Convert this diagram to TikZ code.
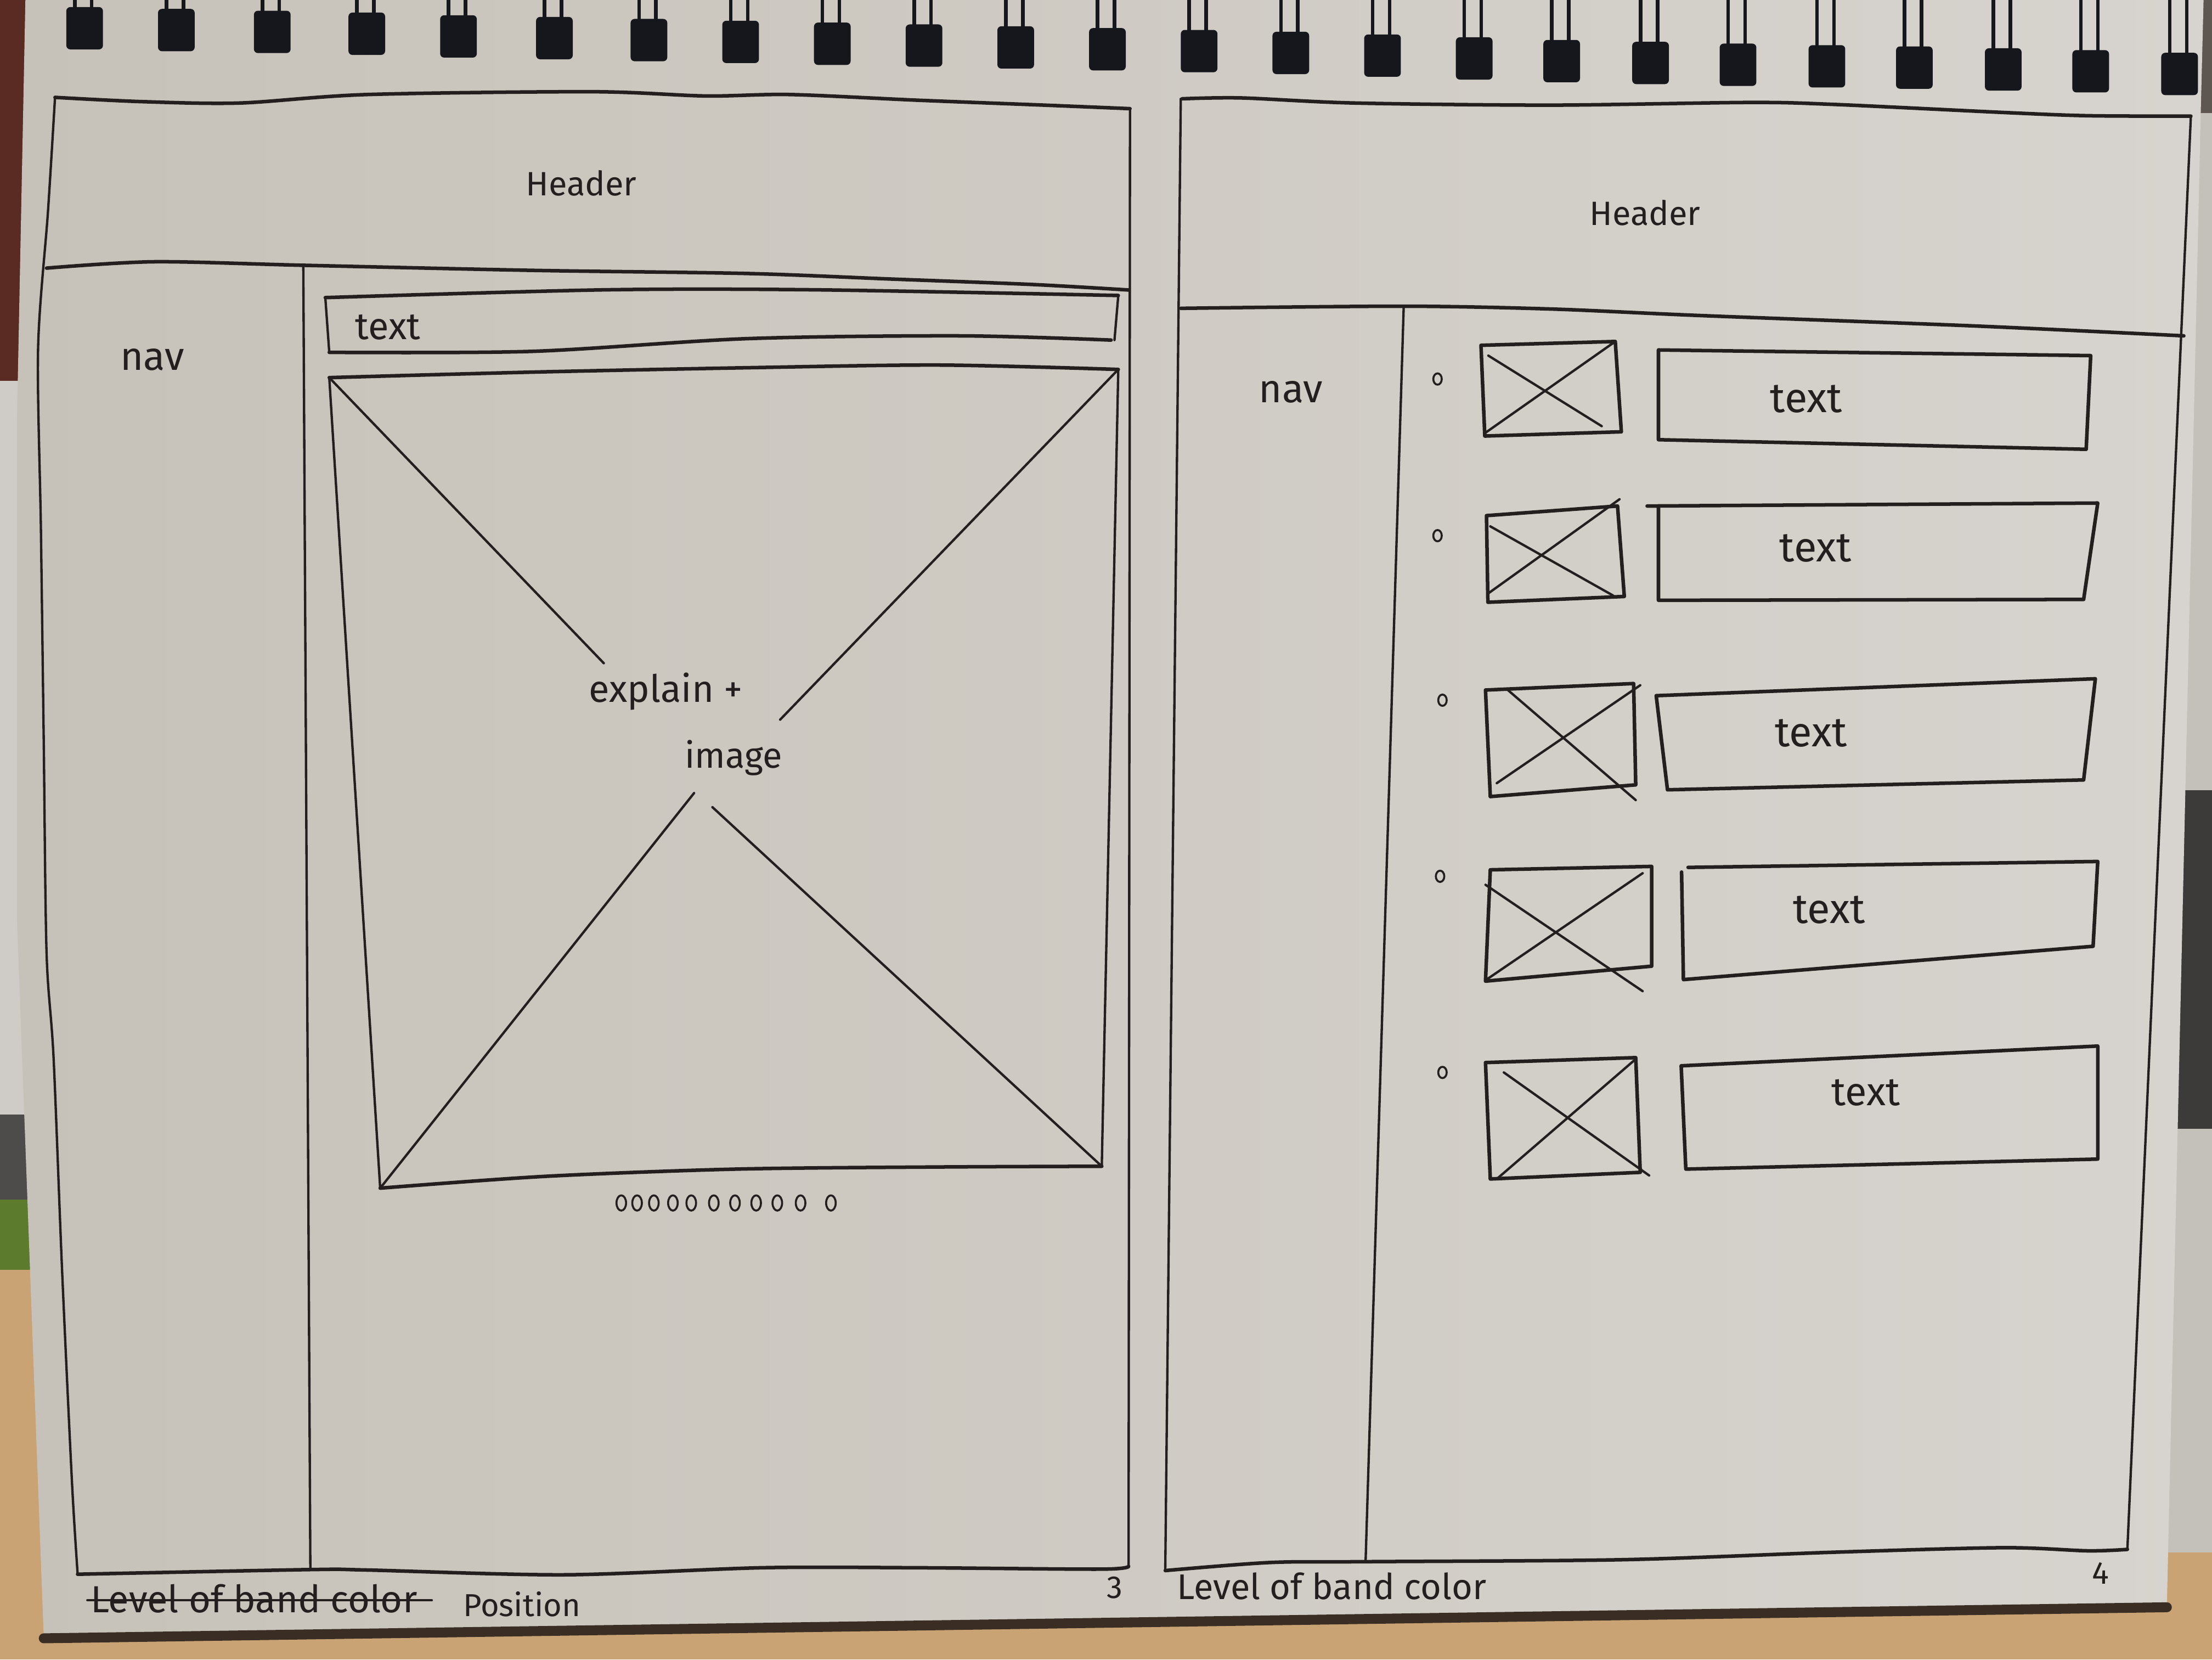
\documentclass[tikz,border=0pt]{standalone}
\usepackage{fontspec}
\setmainfont{Fira Sans}
\definecolor{ink}{HTML}{231F1E}
\definecolor{paperL}{HTML}{C7C2B9}
\definecolor{paperR}{HTML}{D7D4CF}
\definecolor{wood}{HTML}{C9A373}
\definecolor{shadow}{HTML}{3A2E24}
\definecolor{wallred}{HTML}{5A2B22}
\definecolor{wallgrey}{HTML}{CFCBC6}
\definecolor{darkgrey}{HTML}{4D4C4A}
\definecolor{grass}{HTML}{5C7B2C}
\definecolor{wire}{HTML}{16161D}
\definecolor{sideR}{HTML}{C4C0BA}
\definecolor{sideRdark}{HTML}{5E5650}
\definecolor{sideObj}{HTML}{3C3B3A}
\begin{document}
\begin{tikzpicture}[x=0.25mm,y=-0.25mm,line join=round,line cap=round,
  pen/.style={draw=ink,line width=1.8pt},
  fine/.style={draw=ink,line width=1.2pt},
  lbl/.style={text=ink,inner sep=0pt,font=\fontsize{#1}{#1}\selectfont},
  bullet/.style={draw=ink,line width=1pt},
  hole/.style={fill=wire,rounded corners=2pt},
  wirestroke/.style={draw=wire,line width=1.8pt}]
\useasboundingbox (0,0) rectangle (1568,1176);

% surroundings: table, wall and the object on the right
\fill[wood] (0,0) rectangle (1568,1176);
\fill[wallred] (0,0) rectangle (40,270);
\fill[wallgrey] (0,270) rectangle (40,790);
\fill[darkgrey] (0,790) rectangle (40,850);
\fill[grass] (0,850) rectangle (40,900);
\fill[sideRdark] (1520,0) rectangle (1568,80);
\fill[sideR] (1520,80) rectangle (1568,1100);
\fill[sideObj] (1520,560) rectangle (1568,800);

% the sheet of the sketchbook
\shade[left color=paperL,right color=paperR]
  (18,0) -- (1562,0) -- (1560,80) -- (1536,1138) -- (31,1160)
  -- (25,1000) -- (12,650) -- (12,300) -- cycle;
\draw[shadow,line width=5pt] (31,1161) -- (1536,1139);

% spiral binding
\foreach \x/\yb in {60/35,125/36.3,193/37.6,260/38.9,325/40.8,393/42,460/43.4,
  525/44.7,590/46,655/47.3,720/48.6,785/49.9,850/51.2,915/52.5,980/54.4,
  1045/56.4,1107/58.3,1170/59.6,1232/60.9,1295/62,1357/62.9,1420/64.2,
  1482/65.5,1545/67.4}{
  \fill[hole] (\x-13,\yb-30) rectangle (\x+13,\yb);
  \draw[wirestroke] (\x-7,0) -- (\x-7,\yb-4);
  \draw[wirestroke] (\x+5,0) -- (\x+5,\yb-4);
}

% ---------------- page 3 ----------------
\draw[pen] plot[smooth] coordinates {(39,69) (100,72) (170,73) (260,67) (420,65)
  (500,68) (560,67) (650,71) (740,74.5) (801,77)};
\draw[fine] (801,77) -- (800,1110);
\draw[fine] plot[smooth] coordinates {(39,69) (34,150) (27,247) (29,375) (31,525)
  (33,675) (38,750) (44,900) (51,1050) (55,1115)};
\draw[pen] plot[smooth] coordinates {(55,1115.6) (220,1112.3) (260,1112.6)
  (400,1116) (540,1111) (650,1111) (780,1112) (800,1110)};
% header band
\draw[pen] plot[smooth] coordinates {(33,190) (109,185.5) (215.5,188) (377.6,191.6)
  (529,193.8) (630.5,197.7) (731.6,201.6) (800,205.5)};
\node[lbl=17] (hdrA) at (412,130) {Header};
% navigation column
\draw[fine] (215,188) -- (220,1112);
\node[lbl=20] (navA) at (108,255) {nav};
% text bar
\draw[pen] plot[smooth] coordinates {(230.6,210.9) (428,205.4) (580,205.4) (792.7,209.4)};
\draw[fine] (792.7,209.4) -- (790,241);
\draw[pen] plot[smooth] coordinates {(233.4,249.7) (377,249) (529,240) (681,238) (787.6,241)};
\draw[fine] (230.6,210.9) -- (233.4,249.7);
\node[lbl=19] (barA) at (275,232) {text};
% image placeholder
\draw[pen] plot[smooth] coordinates {(233.4,267.6) (377.5,263.7) (529.4,260.6)
  (666,258.7) (792.7,261.8)};
\draw[fine] (792.7,261.8) -- (781,826.5);
\draw[pen] plot[smooth] coordinates {(269.5,842) (387,833.6) (521.6,828.5)
  (664,827) (781,826.5)};
\draw[fine] (233.4,267.6) -- (269.5,842);
\node[lbl=19] (expl) at (472,490) {explain +};
\node[lbl=18] (imgA) at (520,537) {image};
\draw[fine] (233.4,267.6) -- (428,470);
\draw[fine] (792.7,261.8) -- (553,510);
\draw[fine] (269.5,842) -- (492,562);
\draw[fine] (781,826.5) -- (505,572);
% slide indicator
\foreach \x in {440.4,451.6,463.5,477,490,506,521,536,551,567.5,589}
  \draw[bullet] (\x,852.5) ellipse [x radius=3.4, y radius=5.4];
% footer of page 3
\node[lbl=19,anchor=west] (oldA) at (64,1133) {Level of band color};
\draw[ink,line width=1.3pt] (oldA.west) ++(-2,1) -- (306,1134);
\node[lbl=16,anchor=west] (posA) at (328,1137) {Position};
\node[lbl=16] (pg3) at (790,1125) {3};

% ---------------- page 4 ----------------
\draw[pen] plot[smooth] coordinates {(838,70) (880,69.4) (960,73) (1100,74.5)
  (1240,72.6) (1300,74) (1420,79.7) (1480,82) (1553,82.3)};
\draw[fine] (837,70) -- (826,1113);
\draw[fine] (1553,82.3) -- (1508,1098);
\draw[pen] plot[smooth] coordinates {(826,1113) (900,1107.3) (968,1106.7)
  (1150,1105.3) (1300,1100) (1420,1096.8) (1480,1099) (1508,1098)};
% header band
\draw[pen] plot[smooth] coordinates {(837,218.5) (995,217) (1100,219) (1205,223.6)
  (1400,231) (1548,238)};
\node[lbl=17] (hdrB) at (1166,151) {Header};
% navigation column
\draw[fine] (995,218) -- (968,1106.7);
\node[lbl=20] (navB) at (915,278) {nav};

% list rows: bullet, thumbnail, text box
% row 1
\draw[bullet] (1019,268.6) ellipse [x radius=3, y radius=4];
\draw[pen] (1049.8,244.7) -- (1145,242) -- (1149.3,306) -- (1052.5,309) -- cycle;
\draw[fine] (1055,252) -- (1135.4,302);
\draw[fine] (1052.5,307) -- (1145,242);
\draw[pen] (1175.6,248) -- (1482,252) -- (1478.8,318.4) -- (1175.6,311.6) -- cycle;
\node[lbl=21] (txt1) at (1280.4,282.8) {text};
% row 2
\draw[bullet] (1019,379.6) ellipse [x radius=3, y radius=4];
\draw[pen] (1053.7,365.4) -- (1146.6,358.6) -- (1151.4,422.7) -- (1054.7,426.8) -- cycle;
\draw[fine] (1056.4,373) -- (1143.4,422);
\draw[fine] (1054.7,420.7) -- (1148,353.8);
\draw[pen] (1167.6,358.6) -- (1487,356.5) -- (1477,424.8) -- (1175.6,425.4) -- (1175.6,360);
\node[lbl=21] (txt2) at (1287,388.6) {text};
% row 3
\draw[bullet] (1022.5,496.2) ellipse [x radius=3, y radius=4];
\draw[pen] (1053,489) -- (1158,484.4) -- (1159.5,556.2) -- (1056.4,564.5) -- cycle;
\draw[fine] (1067.7,488) -- (1159.5,567);
\draw[fine] (1061,555) -- (1162.7,485.6);
\draw[pen] (1174,493) -- (1485.3,481) -- (1477,552.7) -- (1182,559.7) -- cycle;
\node[lbl=21] (txt3) at (1283.7,519.7) {text};
% row 4
\draw[bullet] (1020.8,621) ellipse [x radius=3, y radius=4];
\draw[pen] (1056.4,616.4) -- (1170.8,614) -- (1170.8,684.7) -- (1053,695.3) -- cycle;
\draw[fine] (1053,627) -- (1164.4,702.4);
\draw[fine] (1054,694) -- (1164.4,618.8);
\draw[pen] (1196.6,614.7) -- (1487,610.5) -- (1483.7,670.6) -- (1193.3,694.2) -- (1192,618);
\node[lbl=21] (txt4) at (1296.6,644.6) {text};
% row 5
\draw[bullet] (1022.5,760) ellipse [x radius=3, y radius=4];
\draw[pen] (1053,753) -- (1159.5,749.5) -- (1162.7,830.8) -- (1056.4,835.5) -- cycle;
\draw[fine] (1066,760) -- (1169,833);
\draw[fine] (1061,835.5) -- (1159.5,750.5);
\draw[pen] (1191.7,755.3) -- (1487,741.3) -- (1487,821.4) -- (1195,828.5) -- cycle;
\node[lbl=20] (txt5) at (1322.5,774.3) {text};

% footer of page 4
\node[lbl=18,anchor=west] (lvlB) at (834,1124) {Level of band color};
\node[lbl=16] (pg4) at (1489,1115) {4};
\end{tikzpicture}
\end{document}
